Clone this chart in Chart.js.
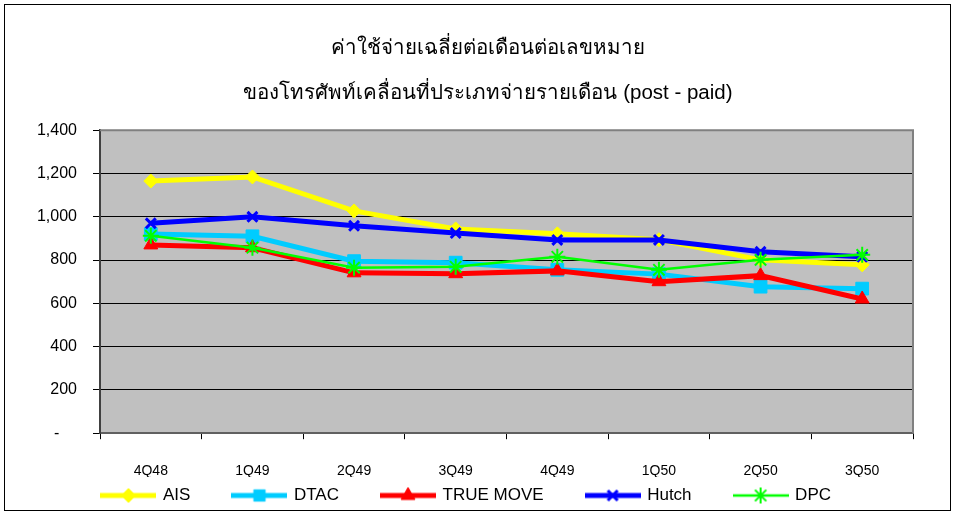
<!DOCTYPE html>
<html>
<head>
<meta charset="utf-8">
<script src="https://cdn.jsdelivr.net/npm/chart.js@4.4.1/dist/chart.umd.min.js"></script>
<style>
  html, body { margin: 0; padding: 0; background: #fff; }
  #wrap { position: absolute; left: 0; top: 0; width: 955px; height: 517px; }
  #frame { position: absolute; left: 4px; top: 4px; width: 945px; height: 505px; border: 1px solid #000; pointer-events: none; }
</style>
</head>
<body>
<div id="wrap"><canvas id="c" width="955" height="517"></canvas></div>
<div id="frame"></div>
<script>
const titleLines = ['ค่าใช้จ่ายเฉลี่ยต่อเดือนต่อเลขหมาย', 'ของโทรศัพท์เคลื่อนที่ประเภทจ่ายรายเดือน (post - paid)'];
const categories = ['4Q48', '1Q49', '2Q49', '3Q49', '4Q49', '1Q50', '2Q50', '3Q50'];
const seriesNames = ['AIS', 'DTAC', 'TRUE MOVE', 'Hutch', 'DPC'];
const ais      = [1165, 1184, 1027, 944, 921, 894, 801, 778];
const dtac     = [920, 910, 795, 788, 755, 735, 677, 668];
const trueMove = [870, 857, 741, 737, 750, 700, 728, 620];
const hutch    = [970, 1000, 958, 925, 893, 893, 838, 815];
const dpc      = [912, 857, 765, 769, 815, 755, 801, 824];
const yTicks   = [0, 200, 400, 600, 800, 1000, 1200, 1400];

const FONT = "'Liberation Sans', Arial, sans-serif";

const styles = [
  { color: '#FFFF00', width: 5, point: 'rectRot', radius: 7, pbw: 1 },
  { color: '#00CCFF', width: 5, point: 'rect', radius: 9, pbw: 1 },
  { color: '#FF0000', width: 5, point: 'triangle', radius: 8, pbw: 1 },
  { color: '#0000FF', width: 5, point: 'crossRot', radius: 7, pbw: 3 },
  { color: '#00FF00', width: 2.5, point: 'star', radius: 8, pbw: 2 }
];
const values = [ais, dtac, trueMove, hutch, dpc];

function legendImage(s) {
  const cv = document.createElement('canvas');
  cv.width = 56; cv.height = 20;
  const ctx = cv.getContext('2d');
  ctx.strokeStyle = s.color;
  ctx.lineWidth = s.width;
  ctx.beginPath(); ctx.moveTo(0, 10); ctx.lineTo(56, 10); ctx.stroke();
  ctx.fillStyle = s.color;
  ctx.lineWidth = s.pbw;
  if (Chart.helpers && Chart.helpers.drawPoint) {
    Chart.helpers.drawPoint(ctx, { pointStyle: s.point, radius: Math.min(s.radius, 8), rotation: 0, borderWidth: s.pbw }, 28, 10);
  }
  return cv;
}

const datasets = seriesNames.map((name, i) => ({
  label: name,
  data: values[i],
  borderColor: styles[i].color,
  backgroundColor: styles[i].color,
  borderWidth: styles[i].width,
  pointStyle: styles[i].point,
  pointRadius: styles[i].radius,
  pointHoverRadius: styles[i].radius,
  pointBorderWidth: styles[i].pbw,
  pointBorderColor: styles[i].color,
  pointBackgroundColor: styles[i].color,
  tension: 0,
  order: seriesNames.length - i
}));

const plotBg = {
  id: 'plotBg',
  beforeDraw(chart) {
    const a = chart.chartArea, ctx = chart.ctx;
    ctx.save();
    ctx.fillStyle = '#C0C0C0';
    ctx.fillRect(a.left, a.top, a.right - a.left, a.bottom - a.top);
    ctx.restore();
  }
};
const plotBorder = {
  id: 'plotBorder',
  beforeDatasetsDraw(chart) {
    const a = chart.chartArea, ctx = chart.ctx;
    ctx.save();
    ctx.strokeStyle = '#808080';
    ctx.lineWidth = 2;
    ctx.beginPath();
    ctx.moveTo(a.left, a.top); ctx.lineTo(a.right, a.top); ctx.lineTo(a.right, a.bottom);
    ctx.stroke();
    ctx.restore();
  }
};

const legendGap = '       ';
const legendTail = '         ';

new Chart(document.getElementById('c'), {
  type: 'line',
  data: { labels: categories, datasets },
  plugins: [plotBg, plotBorder],
  options: {
    responsive: false,
    animation: false,
    events: [],
    layout: { padding: { left: 21, right: 0, top: 4, bottom: 3 } },
    plugins: {
      tooltip: { enabled: false },
      title: {
        display: true,
        text: titleLines,
        color: '#000',
        font: { family: FONT, size: 20.5, weight: 'normal', lineHeight: 2.2 },
        padding: { top: 22, bottom: 14 }
      },
      legend: {
        position: 'bottom',
        labels: {
          usePointStyle: true,
          pointStyleWidth: 52,
          boxHeight: 17,
          padding: 10,
          color: '#000',
          font: { family: FONT, size: 17 },
          sort: (a, b) => a.datasetIndex - b.datasetIndex,
          generateLabels(chart) {
            const items = Chart.defaults.plugins.legend.labels.generateLabels(chart);
            items.forEach(it => {
              it.pointStyle = legendImage(styles[it.datasetIndex]);
              it.text = it.text + (it.datasetIndex < seriesNames.length - 1 ? legendGap : legendTail);
            });
            return items;
          }
        }
      }
    },
    scales: {
      x: {
        offset: true,
        afterFit(scale) { scale.height = scale.height - 27; },
        grid: { offset: true, drawOnChartArea: false, drawTicks: true, tickLength: 6, color: '#000' },
        border: { display: true, color: '#606060', width: 2 },
        ticks: { color: '#000', font: { family: FONT, size: 14 }, padding: 24, maxRotation: 0, autoSkip: false }
      },
      y: {
        min: 0, max: 1400,
        afterBuildTicks(scale) { scale.ticks = yTicks.map(v => ({ value: v })); },
        afterFit(scale) { scale.width = 79; },
        grid: { color: '#000', lineWidth: 1, drawTicks: true, tickLength: 7, tickColor: '#000' },
        border: { display: true, color: '#404040', width: 2 },
        ticks: {
          color: '#000', font: { family: FONT, size: 16 }, padding: 16,
          callback: (v) => v === 0 ? '-    ' : Number(v).toLocaleString('en-US')
        }
      },
      yRight: {
        position: 'right',
        display: true,
        afterFit(scale) { scale.width = 42; },
        grid: { display: false },
        border: { display: false },
        ticks: { display: false }
      }
    }
  }
});
</script>
</body>
</html>
